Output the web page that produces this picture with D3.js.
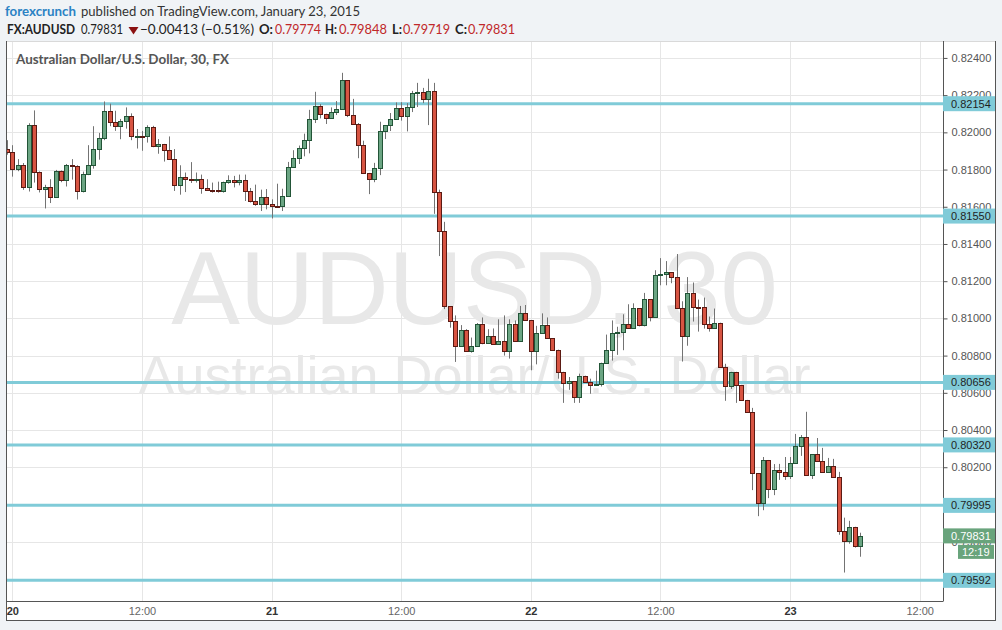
<!DOCTYPE html>
<html><head><meta charset="utf-8">
<script src="https://cdn.jsdelivr.net/npm/d3@7"></script>
<style>html,body{margin:0;padding:0;background:#f0f3f6;} svg{display:block}</style>
</head><body><svg id="c" width="1002" height="630"></svg>
<script>
// ---------------- DATA ----------------
const firstCandle = "2015-01-19T23:30:00Z";   // 30-minute candles
const candleMinutes = 30;
const open = [0.81908,0.81897,0.81801,0.81823,0.81705,0.82042,0.81785,0.81694,0.81705,0.81652,
0.81791,0.81743,0.81823,0.81818,0.81684,0.81775,0.81823,0.81913,0.81972,0.82116,
0.82058,0.82035,0.82063,0.82090,0.81978,0.81982,0.81978,0.82031,0.81924,0.81935,
0.81903,0.81859,0.81717,0.81762,0.81751,0.81746,0.81751,0.81701,0.81692,0.81690,
0.81686,0.81735,0.81746,0.81735,0.81746,0.81686,0.81632,0.81616,0.81654,0.81616,
0.81605,0.81603,0.81659,0.81816,0.81864,0.81916,0.81959,0.82071,0.82141,0.82098,
0.82077,0.82109,0.82125,0.82280,0.82093,0.82045,0.81932,0.81782,0.81750,0.81809,
0.82007,0.82039,0.82071,0.82130,0.82088,0.82136,0.82211,0.82216,0.82179,0.82221,
0.81681,0.81468,0.81065,0.80986,0.80849,0.80935,0.80827,0.80854,0.80968,0.80870,
0.80903,0.80865,0.80876,0.80827,0.80968,0.80881,0.81027,0.80989,0.80827,0.80919,
0.80962,0.80892,0.80832,0.80713,0.80654,0.80663,0.80578,0.80692,0.80659,0.80643,
0.80648,0.80762,0.80829,0.80924,0.80928,0.80968,0.80946,0.81054,0.80962,0.81103,
0.81005,0.81232,0.81238,0.81249,0.81222,0.81054,0.80908,0.81134,0.81063,0.81060,
0.80972,0.80950,0.80977,0.80740,0.80638,0.80713,0.80643,0.80562,0.80497,0.80169,
0.80007,0.80239,0.80082,0.80185,0.80175,0.80154,0.80223,0.80314,0.80363,0.80159,
0.80271,0.80234,0.80175,0.80207,0.80148,0.79859,0.79805,0.79880,0.79774];
const high = [0.81958,0.81931,0.81856,0.81835,0.82049,0.82118,0.81790,0.81718,0.81748,0.81798,
0.81795,0.81830,0.81856,0.81823,0.81789,0.81931,0.82033,0.81997,0.82166,0.82154,
0.82116,0.82072,0.82134,0.82102,0.82018,0.82008,0.82038,0.82035,0.81964,0.81938,
0.81978,0.81910,0.81823,0.81784,0.81840,0.81784,0.81773,0.81748,0.81730,0.81735,
0.81735,0.81769,0.81766,0.81773,0.81773,0.81701,0.81719,0.81692,0.81695,0.81640,
0.81724,0.81697,0.81841,0.81904,0.81929,0.81993,0.82121,0.82218,0.82152,0.82100,
0.82134,0.82168,0.82320,0.82280,0.82180,0.82050,0.81955,0.81782,0.81836,0.82057,
0.82039,0.82104,0.82161,0.82162,0.82157,0.82223,0.82266,0.82239,0.82288,0.82266,
0.81692,0.81519,0.81065,0.81016,0.80964,0.80942,0.80897,0.80975,0.81005,0.80942,
0.80946,0.80995,0.81016,0.80995,0.80989,0.81067,0.81072,0.80989,0.80960,0.81027,
0.81005,0.80892,0.80832,0.80713,0.80685,0.80663,0.80703,0.80692,0.80676,0.80719,
0.80762,0.80913,0.80989,0.80955,0.81022,0.81076,0.81081,0.81054,0.81137,0.81103,
0.81259,0.81324,0.81308,0.81249,0.81346,0.81092,0.81222,0.81193,0.81101,0.81112,
0.81010,0.81053,0.80977,0.80756,0.80713,0.80713,0.80643,0.80562,0.80519,0.80169,
0.80255,0.80239,0.80217,0.80218,0.80255,0.80255,0.80379,0.80373,0.80498,0.80271,
0.80357,0.80304,0.80250,0.80245,0.80175,0.79929,0.79912,0.79880,0.79848];
const low = [0.81880,0.81762,0.81791,0.81691,0.81682,0.81730,0.81677,0.81591,0.81620,0.81648,
0.81732,0.81709,0.81746,0.81639,0.81677,0.81770,0.81805,0.81853,0.81958,0.82033,
0.82008,0.81963,0.82020,0.81958,0.81913,0.81901,0.81945,0.81920,0.81885,0.81843,
0.81855,0.81685,0.81665,0.81679,0.81728,0.81730,0.81670,0.81686,0.81676,0.81676,
0.81676,0.81724,0.81704,0.81715,0.81631,0.81623,0.81605,0.81577,0.81586,0.81537,
0.81600,0.81577,0.81654,0.81811,0.81830,0.81871,0.81887,0.82050,0.82075,0.82045,
0.82077,0.82093,0.82125,0.82082,0.82045,0.81861,0.81777,0.81668,0.81732,0.81770,
0.81964,0.82007,0.82071,0.82063,0.82005,0.82109,0.82136,0.82157,0.82039,0.81562,
0.81335,0.81050,0.80950,0.80766,0.80849,0.80827,0.80816,0.80854,0.80861,0.80870,
0.80865,0.80865,0.80800,0.80784,0.80881,0.80881,0.80989,0.80721,0.80753,0.80919,
0.80892,0.80832,0.80676,0.80546,0.80616,0.80546,0.80546,0.80659,0.80595,0.80638,
0.80634,0.80762,0.80773,0.80804,0.80829,0.80946,0.80946,0.80957,0.80957,0.80984,
0.81005,0.81178,0.81178,0.81189,0.81054,0.80768,0.80853,0.80983,0.80929,0.80945,
0.80929,0.80950,0.80740,0.80557,0.80621,0.80546,0.80562,0.80497,0.80077,0.79937,
0.79969,0.80034,0.80050,0.80132,0.80132,0.80137,0.80223,0.80261,0.80159,0.80137,
0.80234,0.80170,0.80175,0.80148,0.79837,0.79634,0.79789,0.79768,0.79719];
const close = [0.81897,0.81801,0.81823,0.81705,0.82042,0.81785,0.81694,0.81705,0.81652,0.81791,
0.81743,0.81823,0.81818,0.81684,0.81775,0.81823,0.81913,0.81972,0.82116,0.82058,
0.82035,0.82063,0.82090,0.81978,0.81982,0.81978,0.82031,0.81924,0.81935,0.81903,
0.81859,0.81717,0.81762,0.81751,0.81746,0.81751,0.81701,0.81692,0.81690,0.81686,
0.81735,0.81746,0.81735,0.81746,0.81686,0.81632,0.81616,0.81654,0.81616,0.81605,
0.81603,0.81659,0.81816,0.81864,0.81916,0.81959,0.82071,0.82141,0.82098,0.82077,
0.82109,0.82125,0.82280,0.82093,0.82045,0.81932,0.81782,0.81750,0.81809,0.82007,
0.82039,0.82071,0.82130,0.82088,0.82136,0.82211,0.82216,0.82179,0.82221,0.81681,
0.81468,0.81065,0.80986,0.80849,0.80935,0.80827,0.80854,0.80968,0.80870,0.80903,
0.80865,0.80876,0.80827,0.80968,0.80881,0.81027,0.80989,0.80827,0.80919,0.80962,
0.80892,0.80832,0.80713,0.80654,0.80663,0.80578,0.80692,0.80659,0.80643,0.80648,
0.80762,0.80829,0.80924,0.80928,0.80968,0.80946,0.81054,0.80962,0.81103,0.81005,
0.81232,0.81238,0.81249,0.81222,0.81054,0.80908,0.81134,0.81063,0.81060,0.80972,
0.80950,0.80977,0.80740,0.80638,0.80713,0.80643,0.80562,0.80497,0.80169,0.80007,
0.80239,0.80082,0.80185,0.80175,0.80154,0.80223,0.80314,0.80363,0.80159,0.80271,
0.80234,0.80175,0.80207,0.80148,0.79859,0.79805,0.79880,0.79774,0.79831];

const levels = [0.82154, 0.81550, 0.80656, 0.80320, 0.79995, 0.79592];
const yTicks = [0.796,0.798,0.800,0.802,0.804,0.806,0.808,0.810,0.812,0.814,0.816,0.818,0.820,0.822,0.824];
const xTickTimes = ["2015-01-20T00:00:00Z","2015-01-20T12:00:00Z","2015-01-21T00:00:00Z","2015-01-21T12:00:00Z",
                    "2015-01-22T00:00:00Z","2015-01-22T12:00:00Z","2015-01-23T00:00:00Z","2015-01-23T12:00:00Z"];
const xTickLabels = ["20","12:00","21","12:00","22","12:00","23","12:00"];
const lastPrice = 0.79831;
const countdown = "12:19";
const symbol = "FX:AUDUSD";
const change = "\u22120.00413 (\u22120.51%)";
const ohlcLabels = ["O:","H:","L:","C:"];
const ohlcValues = ["0.79774","0.79848","0.79719","0.79831"];

// ---------------- CHART ----------------
const W = 1002, H = 630;
const P = {left: 6, right: 943, top: 41, bottom: 601, frameRight: 995, frameBottom: 620};
const svg = d3.select("#c");
const SANS = "'Liberation Sans', Arial, sans-serif";
const HEAD = "Lato, 'Open Sans', sans-serif";

svg.append("rect").attr("width", W).attr("height", H).attr("fill", "#f0f3f6");
svg.append("rect").attr("x", P.left).attr("y", P.top).attr("width", P.frameRight - P.left)
   .attr("height", P.frameBottom - P.top).attr("fill", "#fff");

const t0 = new Date(firstCandle).getTime();
const candles = open.map((o, i) => ({
  t: new Date(t0 + i * candleMinutes * 60000), o, h: high[i], l: low[i], c: close[i]
}));

const x = d3.scaleUtc()
  .domain([new Date("2015-01-20T00:00:00Z"), new Date("2015-01-23T12:00:00Z")])
  .range([12.3, 919.7]);
const y = d3.scaleLinear().domain([0.79481, 0.82491]).range([P.bottom, P.top]);
const fmt = d3.format(".5f");

// grid
const grid = svg.append("g");
grid.selectAll("line.h").data(yTicks).join("line")
  .attr("x1", P.left).attr("x2", P.right)
  .attr("y1", d => Math.round(y(d)) + 0.5).attr("y2", d => Math.round(y(d)) + 0.5)
  .attr("stroke", "#e6e6e6").attr("stroke-width", 1);
grid.selectAll("line.v").data(xTickTimes).join("line")
  .attr("x1", d => Math.round(x(new Date(d))) + 0.5).attr("x2", d => Math.round(x(new Date(d))) + 0.5)
  .attr("y1", P.top).attr("y2", P.bottom)
  .attr("stroke", "#e6e6e6").attr("stroke-width", 1);

// watermark
const cx = (P.left + P.right) / 2;
svg.append("text").attr("x", cx).attr("y", 324).attr("text-anchor", "middle")
  .attr("font-family", SANS).attr("font-size", 103).attr("fill", "#e8e8e8")
  .text("AUDUSD, 30");
svg.append("text").attr("x", cx).attr("y", 394).attr("text-anchor", "middle")
  .attr("font-family", SANS).attr("font-size", 54).attr("fill", "#e8e8e8")
  .text("Australian Dollar/U.S. Dollar");

// clip
svg.append("clipPath").attr("id", "clip").append("rect")
  .attr("x", P.left + 1).attr("y", P.top).attr("width", P.right - P.left - 1).attr("height", P.bottom - P.top);

// levels
svg.append("g").attr("clip-path", "url(#clip)").selectAll("line").data(levels).join("line")
  .attr("x1", P.left).attr("x2", P.right)
  .attr("y1", d => y(d)).attr("y2", d => y(d))
  .attr("stroke", "#80cbd8").attr("stroke-width", 3);

// candles
const cg = svg.append("g").attr("clip-path", "url(#clip)");
const cs = cg.selectAll("g").data(candles).join("g");
cs.append("line")
  .attr("x1", d => Math.round(x(d.t)) + 0.5).attr("x2", d => Math.round(x(d.t)) + 0.5)
  .attr("y1", d => y(d.h)).attr("y2", d => y(d.l))
  .attr("stroke", "#737373").attr("stroke-width", 1);
cs.append("rect")
  .attr("x", d => Math.round(x(d.t)) - 1.5)
  .attr("width", 4)
  .attr("y", d => Math.round(y(Math.max(d.o, d.c))) + 0.5)
  .attr("height", d => Math.max(1, Math.round(y(Math.min(d.o, d.c))) - Math.round(y(Math.max(d.o, d.c)))))
  .attr("fill", d => d.c >= d.o ? "#6ba583" : "#d75442")
  .attr("stroke", d => d.c >= d.o ? "#225437" : "#5b1a13")
  .attr("stroke-width", 1);

// frame lines
const fr = svg.append("g").attr("stroke-width", 1).attr("shape-rendering", "crispEdges");
fr.append("line").attr("x1", P.left).attr("x2", P.frameRight).attr("y1", P.top).attr("y2", P.top).attr("stroke", "#d9d9d9");
fr.append("line").attr("x1", P.left + 0.5).attr("x2", P.left + 0.5).attr("y1", P.top).attr("y2", P.frameBottom).attr("stroke", "#555");
fr.append("line").attr("x1", P.frameRight + 0.5).attr("x2", P.frameRight + 0.5).attr("y1", P.top).attr("y2", P.frameBottom).attr("stroke", "#555");
fr.append("line").attr("x1", P.left).attr("x2", P.frameRight + 1).attr("y1", P.frameBottom + 0.5).attr("y2", P.frameBottom + 0.5).attr("stroke", "#555");

// right axis (labels lying completely under a price box are not drawn, as in the original)
const covered = v => levels.concat([lastPrice]).some(l => Math.abs(y(l) - y(v)) < 3);
const ya = svg.append("g").attr("transform", `translate(${P.right + 0.5},0)`)
  .call(d3.axisRight(y).tickValues(yTicks).tickSize(4).tickPadding(4).tickFormat(d => covered(d) ? "" : fmt(d)));
ya.select(".domain").attr("d", `M0,${P.top}V${P.bottom}`).attr("stroke", "#555");
ya.selectAll(".tick line").attr("stroke", "#555");
ya.selectAll(".tick text").attr("font-family", SANS).attr("font-size", 11).attr("fill", "#555");

// bottom axis
const xa = svg.append("g").attr("transform", `translate(0,${P.bottom + 0.5})`)
  .call(d3.axisBottom(x).tickValues(xTickTimes.map(d => new Date(d))).tickSize(0).tickPadding(6)
        .tickFormat((d, i) => xTickLabels[i]));
xa.select(".domain").attr("d", `M${P.left},0H${P.right + 0.5}`).attr("stroke", "#555");
xa.selectAll(".tick text").attr("font-family", SANS).attr("font-size", 11)
  .attr("fill", (d, i) => xTickLabels[i].includes(":") ? "#666" : "#333")
  .attr("font-weight", (d, i) => xTickLabels[i].includes(":") ? "normal" : "bold");

// level labels
const lab = svg.append("g").selectAll("g").data(levels).join("g")
  .attr("transform", d => `translate(${P.right},${y(d)})`);
lab.append("rect").attr("x", 0).attr("y", -7.5).attr("width", P.frameRight - P.right).attr("height", 15).attr("fill", "#80cbd8");
lab.append("text").attr("x", 8).attr("dy", "0.35em").attr("font-family", SANS).attr("font-size", 11)
  .attr("fill", "#1f1f1f").text(d => fmt(d));

// last price label
const lp = svg.append("g").attr("transform", `translate(${P.right},${y(lastPrice)})`);
lp.append("rect").attr("x", 0).attr("y", -7.5).attr("width", P.frameRight - P.right).attr("height", 15).attr("fill", "#69a47c");
lp.append("text").attr("x", 8).attr("dy", "0.35em").attr("font-family", SANS).attr("font-size", 11)
  .attr("fill", "#fff").text(fmt(lastPrice));
lp.append("rect").attr("x", 15).attr("y", 9).attr("width", P.frameRight - P.right - 16).attr("height", 14).attr("fill", "#69a47c");
lp.append("text").attr("x", 19).attr("y", 16.5).attr("dy", "0.35em").attr("font-family", SANS).attr("font-size", 11)
  .attr("fill", "#fff").text(countdown);

// header
function htext(txt, xx, yy, len, opts = {}) {
  svg.append("text").attr("x", xx).attr("y", yy)
    .attr("font-family", HEAD).attr("font-size", opts.size || 14)
    .attr("font-weight", opts.bold ? "bold" : "normal")
    .attr("fill", opts.fill || "#333")
    .attr("textLength", len).attr("lengthAdjust", "spacingAndGlyphs")
    .text(txt);
}
htext("forexcrunch", 5, 16, 71, {bold: true, fill: "#2b82c4"});
htext("published on TradingView.com, January 23, 2015", 81, 16, 279, {fill: "#333"});
htext(symbol, 7, 33.5, 68, {bold: true, fill: "#222"});
htext(fmt(lastPrice), 81, 33.5, 42, {fill: "#222"});
svg.append("path").attr("d", "M128.5,27L138.5,27L133.5,34.5Z").attr("fill", "#8b1111");
htext(change, 140, 33.5, 114, {fill: "#222"});
const ox = [259, 325, 392, 455], ol = [14, 12, 10, 12];
const vx = [275, 339, 403, 468], vl = [46, 48, 47, 47];
ohlcLabels.forEach((t, i) => {
  htext(t, ox[i], 33.5, ol[i], {bold: true, fill: "#222"});
  htext(ohlcValues[i], vx[i], 33.5, vl[i], {fill: "#c0282a"});
});
htext("Australian Dollar/U.S. Dollar, 30, FX", 16, 64, 213, {bold: true, fill: "#555", size: 13});
</script></body></html>
